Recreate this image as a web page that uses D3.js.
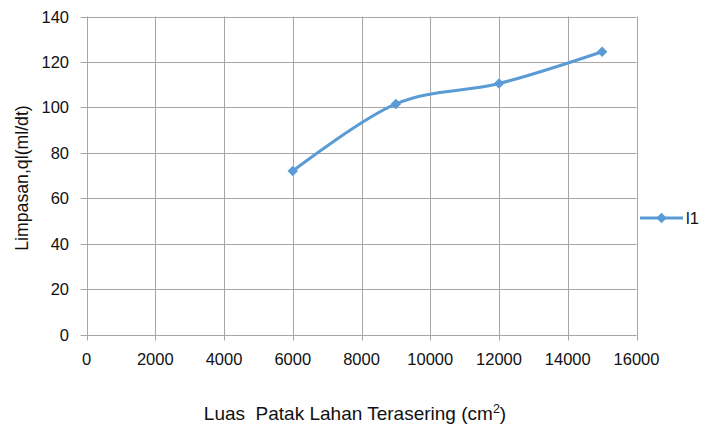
<!DOCTYPE html>
<html><head><meta charset="utf-8">
<script src="https://cdn.jsdelivr.net/npm/d3@7"></script>
<style>body{margin:0;background:#fff}svg{display:block;font-family:"Liberation Sans",Arial,sans-serif}</style>
</head><body><svg id="c" width="702" height="425"></svg>
<script>
const xValues = [6000, 9000, 12000, 15000];
const yValues = [72, 101.5, 110.5, 124.5];
const xTicks = [0,2000,4000,6000,8000,10000,12000,14000,16000];
const yTicks = [0,20,40,60,80,100,120,140];
const seriesName = "l1";

const svg = d3.select("#c");
const x = d3.scaleLinear().domain([0,16000]).range([86.5,636.5]);
const y = d3.scaleLinear().domain([0,140]).range([334.5,16.5]);
const grid = "#a6a6a6";

// gridlines
svg.append("g").selectAll("line").data(yTicks).join("line")
  .attr("x1",x(0)-6).attr("x2",x(16000)).attr("y1",d=>Math.round(y(d))+0.5).attr("y2",d=>Math.round(y(d))+0.5)
  .attr("stroke",grid).attr("stroke-width",1);
svg.append("g").selectAll("line").data(xTicks).join("line")
  .attr("y1",y(140)).attr("y2",y(0)+6).attr("x1",d=>Math.round(x(d))+0.5).attr("x2",d=>Math.round(x(d))+0.5)
  .attr("stroke",grid).attr("stroke-width",1);

// tick labels
svg.append("g").selectAll("text").data(yTicks).join("text")
  .attr("x",69).attr("y",d=>y(d)+6).attr("text-anchor","end")
  .attr("font-size",16.5).attr("fill","#111").text(d=>d);
svg.append("g").selectAll("text").data(xTicks).join("text")
  .attr("x",d=>x(d)).attr("y",365).attr("text-anchor","middle")
  .attr("font-size",16.5).attr("fill","#111").text(d=>d);

// axis titles
svg.append("text").attr("transform","translate(27.5,178) rotate(-90)").attr("text-anchor","middle")
  .attr("font-size",17.7).attr("fill","#111").text("Limpasan,ql(ml/dt)");
const xt = svg.append("text").attr("x",355).attr("y",420).attr("text-anchor","middle")
  .attr("font-size",19).attr("fill","#111").attr("xml:space","preserve");
xt.append("tspan").text("Luas  Patak Lahan Terasering (cm");
xt.append("tspan").attr("font-size",12.5).attr("dy",-7).text("2");
xt.append("tspan").attr("dy",7).text(")");

// series
const pts = xValues.map((v,i)=>[x(v),y(yValues[i])]);
const color = "#5b9bd5";
svg.append("path").attr("d",d3.line().curve(d3.curveCardinal.tension(0))(pts))
  .attr("fill","none").attr("stroke",color).attr("stroke-width",3);
const diamond = d3.symbol().type(d3.symbolDiamond2).size(70);
svg.append("g").selectAll("path").data(pts).join("path")
  .attr("transform",d=>`translate(${d[0]},${d[1]})`).attr("d",diamond).attr("fill",color);

// legend
svg.append("line").attr("x1",640).attr("x2",683).attr("y1",218).attr("y2",218).attr("stroke",color).attr("stroke-width",3);
svg.append("path").attr("transform","translate(661.5,218)").attr("d",diamond).attr("fill",color);
svg.append("text").attr("x",686).attr("y",224).attr("font-size",16.5).attr("fill","#111").text(seriesName);
</script></body></html>
